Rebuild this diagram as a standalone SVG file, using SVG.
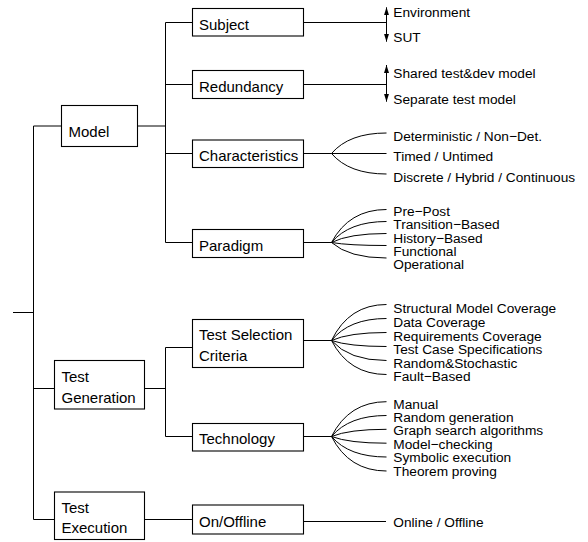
<svg xmlns="http://www.w3.org/2000/svg" width="588" height="542" viewBox="0 0 588 542">
<defs>
<style>
.box{fill:#fff;stroke:#000;stroke-width:1.1}
.bt{font-family:"Liberation Sans",Arial,sans-serif;font-size:15px;fill:#000}
.lt{font-family:"Liberation Sans",Arial,sans-serif;font-size:13.7px;fill:#000}
.c{fill:none;stroke:#000;stroke-width:1}
.arr{marker-start:url(#ah);marker-end:url(#ah)}
</style>
<marker id="ah" viewBox="0 0 8 5" refX="8" refY="2.5" markerUnits="userSpaceOnUse" markerWidth="8" markerHeight="5" orient="auto-start-reverse">
<path d="M0,0 L8,2.5 L0,5 z" fill="#000"/>
</marker>
</defs>
<rect width="588" height="542" fill="#fff"/>
<g id="connectors">
<path class="c" d="M13 312.5 H33.5 M33.5 126 V519.5 M33.5 126 H61.5 M33.5 388.5 H54.5 M33.5 519.5 H54.5"/>
<path class="c" d="M137.5 126 H165.5 M165.5 22.5 V242.5 M165.5 22.5 H192.5 M165.5 84.5 H192.5 M165.5 153.5 H192.5 M165.5 242.5 H192.5"/>
<path class="c" d="M144.5 388.5 H165.5 M165.5 347.5 V436.5 M165.5 347.5 H192.5 M165.5 436.5 H192.5 M144.5 519.5 H192.5"/>
<path class="c" d="M303.5 22.5 H386.5 M303.5 84.5 H386.5"/>
<path class="c arr" d="M386.5 41.7 V7.3"/>
<path class="c arr" d="M386.5 101.7 V65"/>
<path class="c" d="M303.5 153.5 H331.5 M331.5 153.5 Q349 133 386.5 133 M331.5 153.5 H386.5 M331.5 153.5 Q349 174 386.5 174"/>
<path class="c" d="M303.5 242.5 H331.5 M331.5 242.5 Q349 209.5 386.5 209.5 M331.5 242.5 Q349 221.5 386.5 221.5 M331.5 242.5 Q349 233.5 386.5 233.5 M331.5 242.5 Q349 245.5 386.5 245.5 M331.5 242.5 Q349 258 386.5 258"/>
<path class="c" d="M303.5 340.5 H331.5 M331.5 340.5 Q349 304.5 386.5 304.5 M331.5 340.5 Q349 318.5 386.5 318.5 M331.5 340.5 Q349 332.5 386.5 332.5 M331.5 340.5 Q349 346.5 386.5 346.5 M331.5 340.5 Q349 360.5 386.5 360.5 M331.5 340.5 Q349 374.5 386.5 374.5"/>
<path class="c" d="M303.5 436.5 H331.5 M331.5 436.5 Q349 401.7 386.5 401.7 M331.5 436.5 Q349 415.5 386.5 415.5 M331.5 436.5 Q349 429.3 386.5 429.3 M331.5 436.5 Q349 443.2 386.5 443.2 M331.5 436.5 Q349 457 386.5 457 M331.5 436.5 Q349 471 386.5 471"/>
<path class="c" d="M303.5 521.5 H386"/>
</g>
<g id="model"><rect class="box" x="61.5" y="105.5" width="76" height="41"/><text class="bt" x="68.5" y="137">Model</text></g>
<g id="subject"><rect class="box" x="192.5" y="8.5" width="111" height="27.5"/><text class="bt" x="199" y="30">Subject</text></g>
<g id="redundancy"><rect class="box" x="192.5" y="70.5" width="111" height="28"/><text class="bt" x="199" y="92">Redundancy</text></g>
<g id="characteristics"><rect class="box" x="192.5" y="140" width="111" height="27.5"/><text class="bt" x="199" y="161">Characteristics</text></g>
<g id="paradigm"><rect class="box" x="192.5" y="229.5" width="111" height="28"/><text class="bt" x="199" y="250.5">Paradigm</text></g>
<g id="test-generation"><rect class="box" x="54.5" y="360.5" width="90" height="48.5"/><text class="bt" x="61.5" y="381.5">Test</text><text class="bt" x="61.5" y="402.5">Generation</text></g>
<g id="test-selection-criteria"><rect class="box" x="192.5" y="319.5" width="111" height="48"/><text class="bt" x="199" y="340">Test Selection</text><text class="bt" x="199" y="360.5">Criteria</text></g>
<g id="technology"><rect class="box" x="192.5" y="423.5" width="111" height="27.5"/><text class="bt" x="199" y="444">Technology</text></g>
<g id="test-execution"><rect class="box" x="54.5" y="492" width="90" height="47.5"/><text class="bt" x="61.5" y="512.5">Test</text><text class="bt" x="61.5" y="533">Execution</text></g>
<g id="on-offline"><rect class="box" x="192.5" y="505" width="111" height="29"/><text class="bt" x="199" y="526.5">On/Offline</text></g>
<g id="leaves">
<text class="lt" x="393.3" y="16.7">Environment</text>
<text class="lt" x="393.3" y="41.5">SUT</text>
<text class="lt" x="393.3" y="78.3">Shared test&amp;dev model</text>
<text class="lt" x="393.3" y="104">Separate test model</text>
<text class="lt" x="393.3" y="140.7">Deterministic / Non−Det.</text>
<text class="lt" x="393.3" y="161">Timed / Untimed</text>
<text class="lt" x="393.3" y="181.5">Discrete / Hybrid / Continuous</text>
<text class="lt" x="393.3" y="215.7">Pre−Post</text>
<text class="lt" x="393.3" y="229.2">Transition−Based</text>
<text class="lt" x="393.3" y="242.6">History−Based</text>
<text class="lt" x="393.3" y="256">Functional</text>
<text class="lt" x="393.3" y="269.3">Operational</text>
<text class="lt" x="393.3" y="313.3">Structural Model Coverage</text>
<text class="lt" x="393.3" y="327">Data Coverage</text>
<text class="lt" x="393.3" y="340.6">Requirements Coverage</text>
<text class="lt" x="393.3" y="354.2">Test Case Specifications</text>
<text class="lt" x="393.3" y="367.8">Random&amp;Stochastic</text>
<text class="lt" x="393.3" y="381.4">Fault−Based</text>
<text class="lt" x="393.3" y="408.5">Manual</text>
<text class="lt" x="393.3" y="421.9">Random generation</text>
<text class="lt" x="393.3" y="435.3">Graph search algorithms</text>
<text class="lt" x="393.3" y="448.7">Model−checking</text>
<text class="lt" x="393.3" y="462.1">Symbolic execution</text>
<text class="lt" x="393.3" y="475.5">Theorem proving</text>
<text class="lt" x="393.3" y="527">Online / Offline</text>
</g>
</svg>
